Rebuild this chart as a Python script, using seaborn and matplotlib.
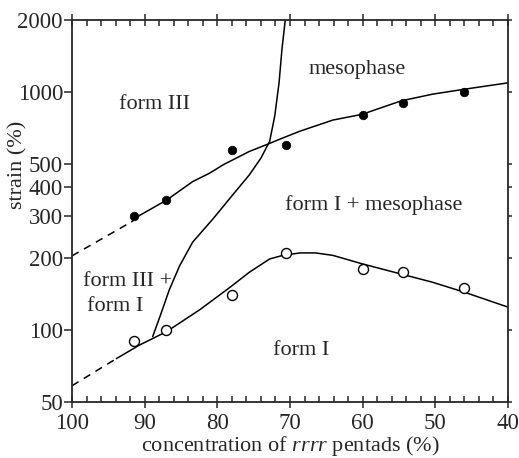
import numpy as np
import pandas as pd
import seaborn as sns
import matplotlib
matplotlib.use("Agg")
import matplotlib.pyplot as plt
from matplotlib.ticker import FixedLocator, MultipleLocator, NullFormatter

# measured points: filled = upper boundary, open = lower boundary
filled_x = [91.5, 87.0, 78.0, 70.5, 60.0, 54.5, 46.0]
filled_y = [300, 350, 570, 600, 800, 900, 1000]
open_x = [91.5, 87.0, 78.0, 70.5, 60.0, 54.5, 46.0]
open_y = [90, 100, 140, 210, 180, 175, 150]

# hand-drawn guide curves
upper_x = [91.8, 90.7, 87.0, 83.4, 81.1, 79.2, 75.6, 73.0, 71.0, 68.6, 64.1, 60.1, 54.7, 50.4, 45.9, 40.0]
upper_y = [285, 303, 351, 420, 455, 494, 562, 604, 640, 684, 761, 804, 916, 977, 1026, 1090]
upper_dash_x = [100.0, 91.8]
upper_dash_y = [205, 285]

lower_x = [93.9, 90.7, 87.0, 82.4, 78.3, 75.6, 72.8, 71.0, 68.6, 66.5, 64.1, 60.1, 54.7, 50.4, 45.9, 40.0]
lower_y = [76, 86.7, 98.6, 122, 151, 175, 199, 206, 211, 211, 206, 190, 172, 159, 144, 125]
lower_dash_x = [100.0, 93.9]
lower_dash_y = [58.5, 76]

bound_x = [88.9, 87.9, 86.6, 85.2, 83.4, 80.6, 77.9, 75.6, 74.0, 72.8, 72.1, 71.5, 71.1, 70.65]
bound_y = [94, 114, 148, 186, 234, 293, 369, 448, 527, 620, 791, 1095, 1517, 2000]

y_ticks = [50, 100, 200, 300, 400, 500, 1000, 2000]

sns.set_style("ticks")
plt.rcParams['font.family'] = ['Liberation Serif', 'DejaVu Serif']
plt.rcParams['mathtext.fontset'] = 'custom'
plt.rcParams['mathtext.rm'] = 'Liberation Serif'
plt.rcParams['mathtext.it'] = 'Liberation Serif:italic'

fig = plt.figure(figsize=(5.19, 4.58), dpi=100)
ax = fig.add_axes([72 / 519, 1 - 402 / 458, 436 / 519, 382 / 458])

line_kw = dict(color='black', lw=1.1, sort=False, estimator=None, ax=ax, legend=False)
for xs, ys, ls in [(upper_x, upper_y, '-'), (upper_dash_x, upper_dash_y, (0, (5, 4))),
                   (lower_x, lower_y, '-'), (lower_dash_x, lower_dash_y, (0, (5, 4))),
                   (bound_x, bound_y, '-')]:
    sns.lineplot(x=xs, y=ys, linestyle=ls, **line_kw)

sns.scatterplot(x=filled_x, y=filled_y, color='black', s=38, edgecolor='black',
                linewidth=0.5, ax=ax, zorder=3)
sns.scatterplot(x=open_x, y=open_y, facecolor='white', s=52, edgecolor='black',
                linewidth=1.0, ax=ax, zorder=3)

ax.set_yscale('log')
ax.set_xlim(100, 40)
ax.set_ylim(50, 2000)
ax.yaxis.set_major_locator(FixedLocator(y_ticks))
ax.yaxis.set_minor_locator(FixedLocator([]))
ax.set_yticklabels([str(t) for t in y_ticks])
ax.yaxis.set_minor_formatter(NullFormatter())
ax.xaxis.set_major_locator(MultipleLocator(10))
ax.xaxis.set_minor_locator(MultipleLocator(2))

ax.tick_params(axis='x', which='major', direction='inout', length=8, width=1.1,
               labelsize=16.5, pad=4, top=True)
ax.tick_params(axis='x', which='minor', direction='in', length=4, width=1.1, top=True)
ax.tick_params(axis='y', which='major', direction='out', length=6, width=1.1,
               labelsize=16.5, pad=0.5)
ax.tick_params(axis='y', which='major', right=True)
for t in ax.yaxis.get_major_ticks():
    t.tick2line.set_markersize(3)

for sp in ax.spines.values():
    sp.set_linewidth(1.3)
    sp.set_visible(True)

ax.set_xlabel('concentration of $rrrr$ pentads (%)', fontsize=16, labelpad=0)
ax.set_ylabel('strain (%)', fontsize=16)
ax.yaxis.set_label_coords(-0.102, 0.62)

txt = dict(fontsize=16, ha='center', va='baseline')
ax.text(88.6, 847, 'form III', **txt)
ax.text(60.7, 1192, 'mesophase', **txt)
ax.text(58.5, 319, 'form I + mesophase', **txt)
ax.text(92.4, 153, 'form III +', **txt)
ax.text(94.1, 120, 'form I', **txt)
ax.text(68.5, 78.5, 'form I', **txt)

fig.savefig('out.png', dpi=100)
